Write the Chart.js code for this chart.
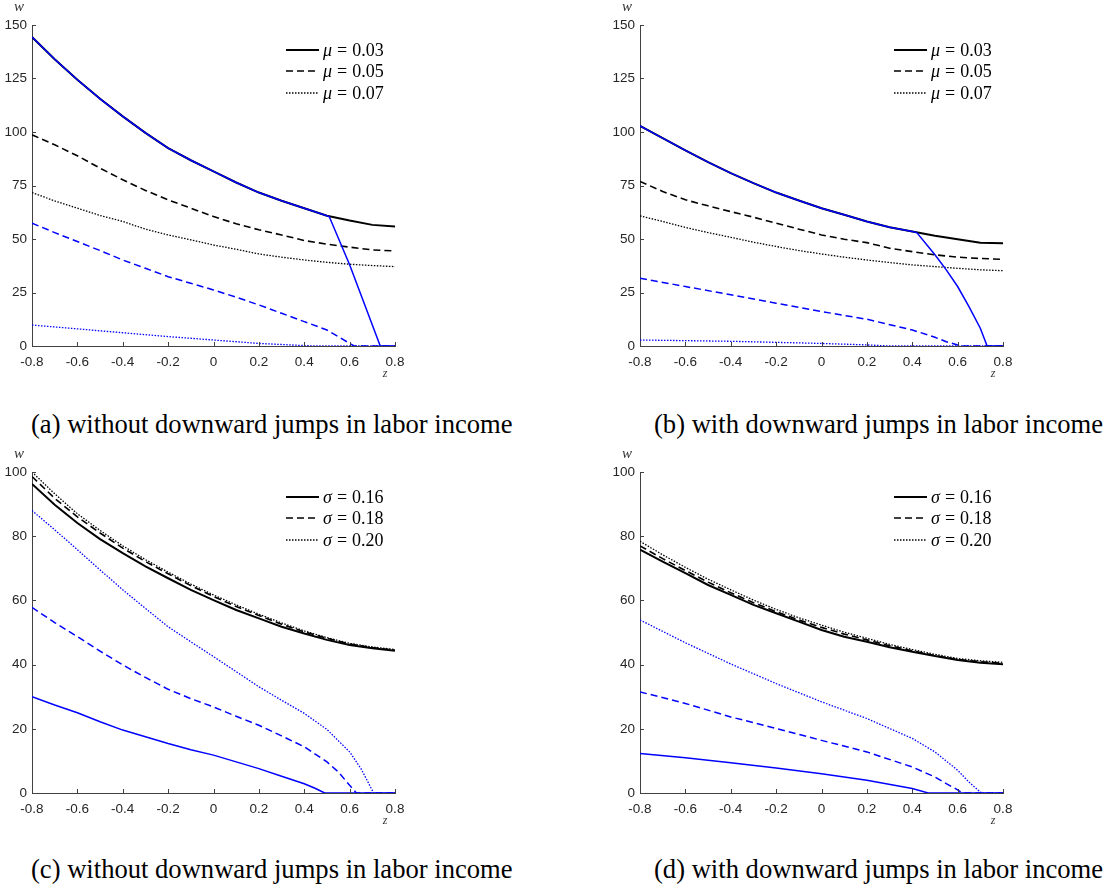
<!DOCTYPE html>
<html>
<head>
<meta charset="utf-8">
<script src="https://cdn.jsdelivr.net/npm/chart.js@4/dist/chart.umd.min.js"></script>
<style>
  body { margin: 0; background: #fff; width: 1111px; height: 886px; position: relative; overflow: hidden; }
  canvas { position: absolute; }
  .cap { position: absolute; font-family: "Liberation Serif", serif; font-size: 26.6px; line-height: 30px; color: #000; white-space: nowrap; }
</style>
</head>
<body>
<canvas id="ca" width="420" height="380" style="left:0px;top:0px"></canvas>
<canvas id="cb" width="420" height="380" style="left:608px;top:0px"></canvas>
<canvas id="cc" width="420" height="380" style="left:0px;top:447px"></canvas>
<canvas id="cd" width="420" height="380" style="left:608px;top:447px"></canvas>
<div class="cap" style="left:31px;top:409px">(a) without downward jumps in labor income</div>
<div class="cap" style="left:654px;top:409px">(b) with downward jumps in labor income</div>
<div class="cap" style="left:31px;top:854px">(c) without downward jumps in labor income</div>
<div class="cap" style="left:654px;top:854px">(d) with downward jumps in labor income</div>
<script>
// wspólna siatka z dla czarnych krzywych
const zGrid = [-0.8,-0.7,-0.6,-0.5,-0.4,-0.3,-0.2,-0.1,0,0.1,0.2,0.3,0.4,0.5,0.6,0.7,0.8]

const muLabels = ["0.03", "0.05", "0.07"]
const sigmaLabels = ["0.16", "0.18", "0.20"]

// panel (a)
const aBlackSolid  = [144.4,134.0,124.4,115.5,107.3,99.6,92.5,86.8,81.6,76.4,71.7,67.9,64.4,60.9,58.6,56.6,55.8]
const aBlackDashed = [98.7,94.0,88.9,83.1,77.7,72.7,68.3,64.4,60.5,57.1,54.3,51.9,49.3,47.6,46.2,44.9,44.4]
const aBlackDotted = [71.7,67.8,64.4,61.0,58.2,54.6,51.9,49.6,47.2,45.2,43.0,41.5,40.2,39.1,38.2,37.6,37.1]
const aBlueSolidZ  = [-0.8,-0.7,-0.6,-0.5,-0.4,-0.3,-0.2,-0.1,0,0.1,0.2,0.3,0.4,0.5,0.51,0.6,0.735,0.8]
const aBlueSolid   = [144.4,134.0,124.4,115.5,107.3,99.6,92.5,86.8,81.6,76.4,71.7,67.9,64.4,60.9,60.5,38.0,0,0]
const aBlueDashedZ = [-0.8,-0.7,-0.6,-0.5,-0.4,-0.3,-0.2,-0.1,0,0.1,0.2,0.3,0.4,0.5,0.55,0.6,0.62,0.8]
const aBlueDashed  = [57.4,53.0,48.8,44.6,40.2,36.3,32.4,29.3,26.2,22.8,19.2,15.3,11.4,7.5,4.4,1.2,0,0]
const aBlueDottedZ = [-0.8,-0.6,-0.4,-0.2,0,0.2,0.4,0.45,0.8]
const aBlueDotted  = [9.8,8.0,6.2,4.4,2.8,1.2,0.2,0,0]

// panel (b)
const bBlackSolid  = [102.9,97.1,91.4,85.9,80.8,76.1,71.7,68.0,64.4,61.3,58.2,55.5,53.5,51.5,49.9,48.3,48.0]
const bBlackDashed = [76.9,72.2,68.3,65.5,62.8,60.2,57.4,54.6,51.9,49.9,48.3,45.7,44.1,42.6,41.5,40.9,40.5]
const bBlackDotted = [60.8,58.2,55.4,53.0,50.8,48.5,46.5,44.6,43.0,41.5,40.2,39.0,37.9,37.1,36.3,35.6,35.2]
const bBlueSolidZ  = [-0.8,-0.7,-0.6,-0.5,-0.4,-0.3,-0.2,-0.1,0,0.1,0.2,0.3,0.4,0.42,0.5,0.55,0.6,0.65,0.7,0.73,0.8]
const bBlueSolid   = [102.9,97.1,91.4,85.9,80.8,76.1,71.7,68.0,64.4,61.3,58.2,55.5,53.5,53.0,42.6,35.6,27.8,18.4,8.3,0,0]
const bBlueDashedZ = [-0.8,-0.6,-0.4,-0.2,0,0.2,0.4,0.5,0.55,0.6,0.61,0.8]
const bBlueDashed  = [31.7,27.8,23.9,20.0,16.1,12.5,7.5,4.1,2.0,0.5,0,0]
const bBlueDottedZ = [-0.8,-0.4,0,0.2,0.3,0.8]
const bBlueDotted  = [2.8,2.2,1.2,0.5,0,0]

// panel (c)
const cBlackSolid  = [96.3,89.8,84.1,79.1,74.7,70.6,66.9,63.3,60.1,57.0,54.4,51.8,49.7,47.7,46.1,45.1,44.3]
const cBlackDashed = [98.6,91.8,86.0,81.0,76.3,72.1,68.3,64.6,61.2,58.1,55.3,52.6,50.2,48.2,46.4,45.3,44.5]
const cBlackDotted = [100.0,93.2,87.0,81.8,77.0,72.7,68.8,65.1,61.7,58.6,55.7,53.0,50.5,48.4,46.6,45.5,44.7]
const cBlueSolidZ  = [-0.8,-0.7,-0.6,-0.5,-0.4,-0.3,-0.2,-0.1,0,0.1,0.2,0.3,0.4,0.45,0.49,0.8]
const cBlueSolid   = [30.0,27.4,25.0,22.2,19.6,17.5,15.4,13.5,11.8,9.7,7.6,5.2,2.9,1.4,0,0]
const cBlueDashedZ = [-0.8,-0.7,-0.6,-0.5,-0.4,-0.3,-0.2,-0.1,0,0.1,0.2,0.3,0.4,0.5,0.55,0.6,0.63,0.8]
const cBlueDashed  = [57.8,53.1,48.7,44.2,39.9,36.0,32.3,29.4,26.8,23.9,21.1,17.8,14.4,9.7,6.6,2.4,0,0]
const cBlueDottedZ = [-0.8,-0.7,-0.6,-0.5,-0.4,-0.3,-0.2,-0.1,0,0.1,0.2,0.3,0.4,0.5,0.6,0.65,0.7,0.705,0.8]
const cBlueDotted  = [88.0,82.0,75.8,69.5,63.3,57.5,51.8,47.1,42.5,37.8,33.1,28.9,24.8,19.8,12.8,7.6,0.8,0,0]

// panel (d)
const dBlackSolid  = [75.8,72.1,68.5,64.8,61.7,58.6,56.0,53.4,50.8,48.7,47.1,45.4,44.0,42.7,41.4,40.6,40.1]
const dBlackDashed = [77.0,73.0,69.3,65.7,62.4,59.3,56.5,53.9,51.6,49.5,47.7,45.9,44.3,42.8,41.6,40.9,40.4]
const dBlackDotted = [78.4,74.2,70.3,66.6,63.3,60.1,57.2,54.6,52.3,50.1,48.2,46.3,44.7,43.2,41.9,41.2,40.7]
const dBlueSolidZ  = [-0.8,-0.6,-0.4,-0.2,0,0.2,0.4,0.47,0.8]
const dBlueSolid   = [12.3,11.0,9.4,7.8,6.0,4.0,1.4,0,0]
const dBlueDashedZ = [-0.8,-0.6,-0.4,-0.2,0,0.2,0.4,0.5,0.55,0.6,0.62,0.8]
const dBlueDashed  = [31.5,27.9,23.7,20.1,16.4,12.8,8.1,5.0,2.9,1.0,0,0]
const dBlueDottedZ = [-0.8,-0.6,-0.4,-0.2,0,0.2,0.4,0.5,0.6,0.65,0.7,0.71,0.8]
const dBlueDotted  = [53.9,46.8,40.2,34.1,28.4,23.2,17.0,12.8,7.1,3.4,0.3,0,0]

const AXIS = "#404040"
const DASH = [7, 4]
const DOT = [1.5, 1.5]

function pts(zs, ws){
    return zs.map((z, i) => ({x: z, y: ws[i]}))
}

function ds(data, color, dash, width){
    return { data: data, borderColor: color, borderDash: dash, borderWidth: width,
             pointRadius: 0, fill: false, tension: 0 }
}

// rysuje legendę, znaczniki do środka i etykiety osi w stylu Matlaba
const matlabLook = {
    id: "matlabLook",
    afterDraw(chart){
        const ctx = chart.ctx
        const o = chart.options.plugins.matlabLook
        const xs = chart.scales.x, ys = chart.scales.y
        const a = chart.chartArea
        ctx.save()
        ctx.strokeStyle = AXIS
        ctx.lineWidth = 1
        ctx.setLineDash([])
        xs.ticks.forEach(t => {
            const px = Math.round(xs.getPixelForValue(t.value)) + 0.5
            ctx.beginPath(); ctx.moveTo(px, a.bottom); ctx.lineTo(px, a.bottom - 4); ctx.stroke()
        })
        ys.ticks.forEach(t => {
            const py = Math.round(ys.getPixelForValue(t.value)) + 0.5
            ctx.beginPath(); ctx.moveTo(a.left, py); ctx.lineTo(a.left + 4, py); ctx.stroke()
        })
        // legenda
        const styles = [[[], 2], [DASH, 1.6], [DOT, 1.3]]
        const rows = [50, 71, 93]
        o.labels.forEach((lab, i) => {
            ctx.strokeStyle = "#000"
            ctx.setLineDash(styles[i][0])
            ctx.lineWidth = styles[i][1]
            ctx.beginPath(); ctx.moveTo(286, rows[i]); ctx.lineTo(319, rows[i]); ctx.stroke()
            ctx.setLineDash([])
            ctx.fillStyle = "#000"
            ctx.textBaseline = "middle"
            ctx.textAlign = "left"
            ctx.font = "italic 18px 'Liberation Serif'"
            ctx.fillText(o.symbol, 323, rows[i] + 1)
            let x = 323 + ctx.measureText(o.symbol).width + 5
            ctx.font = "18px 'Liberation Serif'"
            ctx.fillText("=", x, rows[i] + 1)
            x += ctx.measureText("=").width + 5
            ctx.fillText(lab, x, rows[i] + 1)
        })
        // etykiety osi
        ctx.fillStyle = "#333"
        ctx.font = "italic 15px 'Liberation Serif'"
        ctx.textAlign = "center"
        ctx.fillText("w", 19, 7)
        ctx.font = "italic 12px 'Liberation Serif'"
        ctx.fillText("z", 385, 374)
        ctx.restore()
    }
}

function makeChart(id, datasets, yMax, yStep, labels, symbol){
    return new Chart(document.getElementById(id), {
        type: "line",
        data: { datasets: datasets },
        options: {
            responsive: false,
            animation: false,
            events: [],
            layout: { padding: { left: 0, right: 25, top: 25, bottom: 0 } },
            plugins: {
                legend: { display: false },
                tooltip: { enabled: false },
                matlabLook: { labels: labels, symbol: symbol }
            },
            scales: {
                x: {
                    type: "linear", min: -0.8, max: 0.8,
                    afterFit: s => { s.height = 34 },
                    grid: { display: true, drawOnChartArea: false, drawTicks: false },
                    border: { display: true, color: AXIS, width: 1 },
                    ticks: {
                        stepSize: 0.2, padding: 8, color: "#262626",
                        font: { family: "Liberation Sans", size: 13.5 },
                        callback: v => String(Math.round(v * 10) / 10)
                    }
                },
                y: {
                    min: 0, max: yMax,
                    afterFit: s => { s.width = 32 },
                    grid: { display: true, drawOnChartArea: false, drawTicks: false },
                    border: { display: true, color: AXIS, width: 1 },
                    ticks: {
                        stepSize: yStep, padding: 5, color: "#262626",
                        font: { family: "Liberation Sans", size: 13.5 }
                    }
                }
            }
        },
        plugins: [matlabLook]
    })
}

// niebieskie na wierzchu (pierwszy zbiór rysowany jest ostatni)
function panel(id, bs, bd, bt, us, usz, ud, udz, ut, utz, yMax, yStep, labels, symbol){
    return makeChart(id, [
        ds(pts(usz, us), "#0000ff", [], 1.5),
        ds(pts(udz, ud), "#0000ff", DASH, 1.5),
        ds(pts(utz, ut), "#0000ff", DOT, 1.3),
        ds(pts(zGrid, bs), "#000", [], 2),
        ds(pts(zGrid, bd), "#000", DASH, 1.6),
        ds(pts(zGrid, bt), "#000", DOT, 1.3)
    ], yMax, yStep, labels, symbol)
}

panel("ca", aBlackSolid, aBlackDashed, aBlackDotted, aBlueSolid, aBlueSolidZ, aBlueDashed, aBlueDashedZ, aBlueDotted, aBlueDottedZ, 150, 25, muLabels, "μ")
panel("cb", bBlackSolid, bBlackDashed, bBlackDotted, bBlueSolid, bBlueSolidZ, bBlueDashed, bBlueDashedZ, bBlueDotted, bBlueDottedZ, 150, 25, muLabels, "μ")
panel("cc", cBlackSolid, cBlackDashed, cBlackDotted, cBlueSolid, cBlueSolidZ, cBlueDashed, cBlueDashedZ, cBlueDotted, cBlueDottedZ, 100, 20, sigmaLabels, "σ")
panel("cd", dBlackSolid, dBlackDashed, dBlackDotted, dBlueSolid, dBlueSolidZ, dBlueDashed, dBlueDashedZ, dBlueDotted, dBlueDottedZ, 100, 20, sigmaLabels, "σ")
</script>
</body>
</html>
